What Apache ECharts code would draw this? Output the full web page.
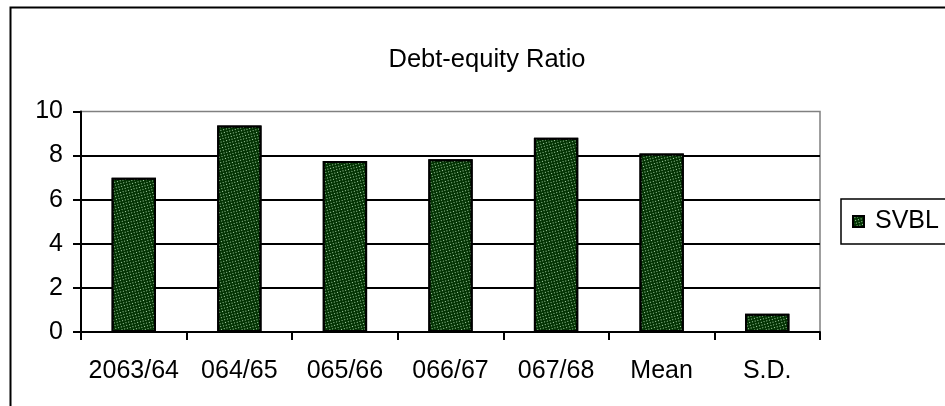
<!DOCTYPE html>
<html>
<head>
<meta charset="utf-8">
<script src="https://cdn.jsdelivr.net/npm/echarts@6/dist/echarts.min.js"></script>
<style>
html,body{margin:0;padding:0;background:#fff;}
#chart{width:945px;height:406px;}
</style>
</head>
<body>
<div id="chart"></div>
<script>
const categories = ['2063/64', '064/65', '065/66', '066/67', '067/68', 'Mean', 'S.D.'];
const svblValues = [7.0, 9.37, 7.75, 7.84, 8.81, 8.1, 0.83];
const yTicks = [0, 2, 4, 6, 8, 10];
const seriesName = 'SVBL';
const titleText = 'Debt-equity Ratio';

const FONT = "'Liberation Sans', Arial, sans-serif";
const chart = echarts.init(document.getElementById('chart'));
chart.setOption({
  animation: false,
  aria: { enabled: true, decal: { show: true } },
  backgroundColor: '#fff',
  title: {
    text: titleText,
    left: 482, top: 42,
    textAlign: 'center',
    textStyle: { fontFamily: FONT, fontSize: 25.5, fontWeight: 'normal', color: '#000' }
  },
  graphic: [{
    type: 'rect', silent: true, z: -1,
    shape: { x: 10.5, y: 7.5, width: 1000, height: 500 },
    style: { fill: null, stroke: '#000', lineWidth: 2 }
  }],
  legend: {
    left: 841, top: 199,
    padding: [10, 40, 10, 11],
    borderColor: '#000', borderWidth: 1.5,
    backgroundColor: '#fff',
    itemWidth: 11, itemHeight: 11,
    icon: 'rect',
    textStyle: { fontFamily: FONT, fontSize: 25, color: '#000', padding: [0, 0, 0, 6] },
    data: [seriesName]
  },
  grid: {
    left: 81, right: 125, top: 111.5, bottom: 74,
    show: true, borderColor: '#808080', borderWidth: 1.5
  },
  xAxis: {
    type: 'category',
    data: categories,
    axisLine: { lineStyle: { color: '#000', width: 2 } },
    axisTick: { show: true, length: 8, inside: false, lineStyle: { color: '#000', width: 2 } },
    axisLabel: { fontFamily: FONT, fontSize: 25, color: '#000', margin: 27, interval: 0 },
    splitLine: { show: false }
  },
  yAxis: {
    type: 'value',
    min: yTicks[0], max: yTicks[yTicks.length - 1], interval: yTicks[1] - yTicks[0],
    axisLine: { show: true, lineStyle: { color: '#000', width: 2 } },
    axisTick: { show: true, length: 8, lineStyle: { color: '#000', width: 2 } },
    axisLabel: { fontFamily: FONT, fontSize: 25, color: '#000', margin: 18 },
    splitLine: { show: true, showMaxLine: false, lineStyle: { color: '#000', width: 2 } }
  },
  series: [{
    name: seriesName,
    type: 'bar',
    data: svblValues,
    barWidth: '42%',
    itemStyle: {
      color: '#033303',
      borderColor: '#000',
      borderWidth: 2,
      decal: {
        symbol: 'rect',
        symbolSize: 1,
        color: '#a8d4a8',
        dashArrayX: [[1, 3], [0, 2, 1, 1]],
        dashArrayY: [1, 1]
      }
    }
  }]
});
</script>
</body>
</html>
